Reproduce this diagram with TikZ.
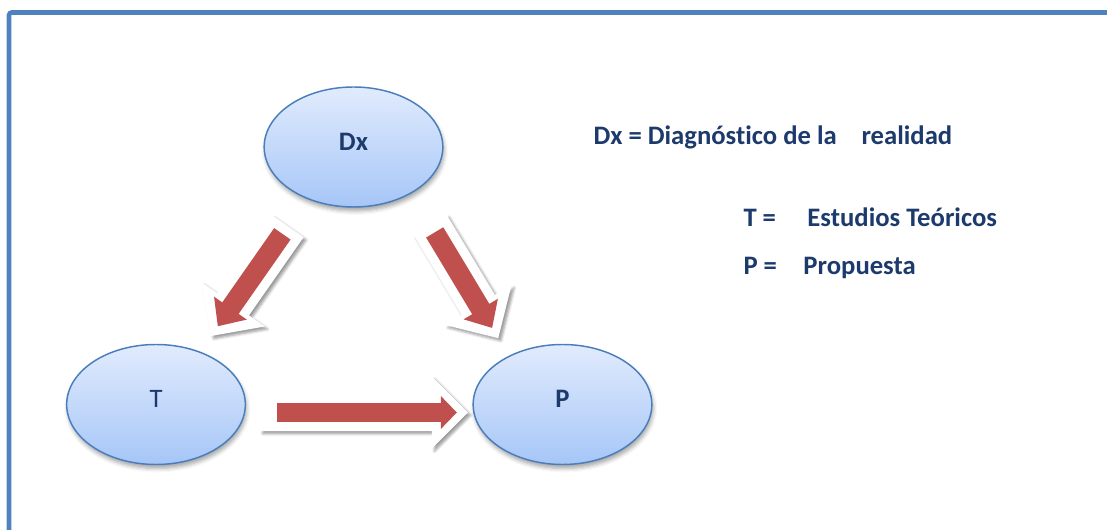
\documentclass[tikz,border=0pt]{standalone}
\usepackage{fontspec}
\setmainfont{Carlito}[Ligatures=NoCommon]
\usepackage{tikz}
\usetikzlibrary{calc,shapes.geometric,shadows.blur}
\tikzset{every picture/.style={line width=0.75pt}}

% block arrow outline: start, tip, shaft half width, head half width, head length, style
\newcommand{\arrpoly}[6]{%
  \coordinate (headbase) at ($(#2)!#5!(#1)$);
  \fill[#6] ($(#1)!#3!90:(#2)$) -- ($(headbase)!#3!90:(#2)$) -- ($(headbase)!#4!90:(#2)$) -- (#2)
    -- ($(headbase)!#4!-90:(#2)$) -- ($(headbase)!#3!-90:(#2)$) -- ($(#1)!#3!-90:(#2)$) -- cycle ;}
% red arrow on its white rim
\newcommand{\blockarr}[9]{%
  \coordinate (rimS) at ($(#1)!-#6!(#2)$);
  \coordinate (rimE) at ($(#2)!-#7!(#1)$);
  \arrpoly{rimS}{rimE}{#8}{#9}{#9}{arrowrim}
  \arrpoly{#1}{#2}{#3}{#4}{#5}{arrowbody}}

\begin{document}
\begin{tikzpicture}[x=0.75pt,y=0.75pt,yscale=-1,xscale=1,
  bubble/.style={ellipse, draw={rgb, 255:red, 74; green, 126; blue, 187}, line width=1.1pt,
    top color={rgb, 255:red, 225; green, 235; blue, 253}, bottom color={rgb, 255:red, 166; green, 198; blue, 247},
    minimum width=134pt, minimum height=90pt, inner sep=0pt, text depth=8pt,
    font=\fontsize{20}{24}\selectfont, text={rgb, 255:red, 28; green, 58; blue, 108},
    blur shadow={shadow xshift=1pt, shadow yshift=-3pt, shadow opacity=35, shadow blur radius=3pt}},
  arrowrim/.style={fill=white, blur shadow={shadow xshift=2pt, shadow yshift=-2pt, shadow opacity=40, shadow blur radius=2pt}},
  arrowbody/.style={fill={rgb, 255:red, 192; green, 80; blue, 77}},
  legend/.style={anchor=base west, inner sep=0pt, font=\fontsize{20}{24}\selectfont\bfseries, text={rgb, 255:red, 28; green, 58; blue, 108}}]
\useasboundingbox (0,0) rectangle (1107,530);

%Frame
\draw [draw={rgb, 255:red, 79; green, 129; blue, 189}, line width=3.4pt, rounded corners=2pt] (9,545) -- (9,12.5) -- (1120,12.5) ;

%Shape: Ellipse
\node [bubble] (Dx) at (353.5,147) {\textbf{Dx}};
%Shape: Ellipse
\node [bubble] (T) at (156,404.5) {T};
%Shape: Ellipse
\node [bubble] (P) at (562.5,404.5) {\textbf{P}};

%Block Arrows
\coordinate (dxtS) at ($(Dx)!0.345!(T)+(-3,-2)$);
\coordinate (dxtE) at ($(Dx)!0.692!(T)+(1,1)$);
\blockarr{dxtS}{dxtE}{7.5pt}{15pt}{16.5pt}{7pt}{9pt}{14.5pt}{29pt}
\coordinate (dxpS) at ($(Dx)!0.355!(P)+(7,-6)$);
\coordinate (dxpE) at ($(Dx)!0.687!(P)+(-5,4)$);
\blockarr{dxpS}{dxpE}{7.5pt}{15pt}{16.5pt}{7pt}{9pt}{14.5pt}{29pt}
\coordinate (tpS) at ($(T)!0.298!(P)+(0,8)$);
\coordinate (tpE) at ($(T)!0.740!(P)+(0,8)$);
\blockarr{tpS}{tpE}{7.1pt}{12.4pt}{12pt}{12.75pt}{8.25pt}{13.9pt}{27pt}

% Text Node
\node [legend] (keyDx) at (593,145) {\makebox[201pt][l]{Dx = Diagnóstico de la}realidad};
% Text Node
\node [legend] (keyT) at (743,227) {\makebox[48pt][l]{T =}Estudios Teóricos};
% Text Node
\node [legend] (keyP) at (743,275) {\makebox[45pt][l]{P =}Propuesta};

\end{tikzpicture}
\end{document}
